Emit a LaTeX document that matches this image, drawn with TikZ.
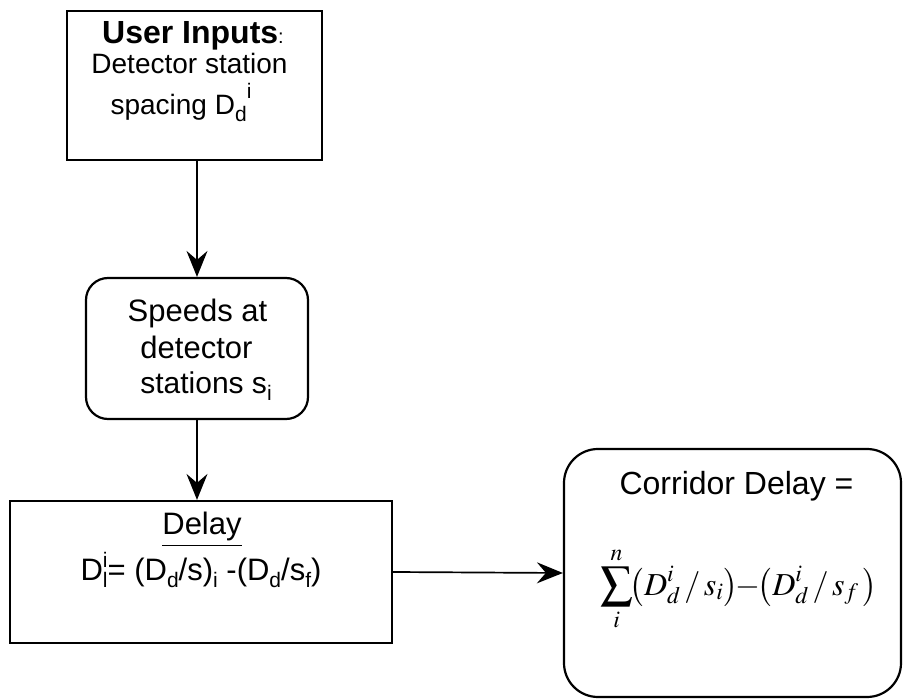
\documentclass[tikz,border=0pt]{standalone}
\usepackage{mathptmx}
\usepackage[no-math]{fontspec}
\setmainfont{Liberation Sans}
\usetikzlibrary{arrows.meta}

% raised and lowered indices in the text font
\newcommand\upidx[2][11pt]{\raisebox{#1}{\fontsize{21}{21}\selectfont #2}}
\newcommand\dnidx[1]{\raisebox{-7pt}{\fontsize{21}{21}\selectfont #1}}

\tikzset{
  box/.style={draw, line width=2.2pt, rectangle, inner sep=0pt},
  roundbox/.style={box, rounded corners=#1},
  label text/.style={inner sep=0pt, anchor=base},
  flow/.style={line width=1.7pt, -{Stealth[length=26pt, width=21pt, inset=9pt]}},
}

\begin{document}
\begin{tikzpicture}[x=1pt, y=-1pt]
  \useasboundingbox (0,0) rectangle (903,700);

  % boxes
  \node[box, minimum width=255pt, minimum height=149pt] (inputs) at (194.5,85.5) {};
  \node[roundbox=22pt, minimum width=222pt, minimum height=141pt] (speeds) at (197,348.5) {};
  \node[box, minimum width=382pt, minimum height=142pt] (delay) at (201,572) {};
  \node[roundbox=34pt, minimum width=337pt, minimum height=248pt] (corridor) at (732.5,573) {};

  % user inputs
  \node[label text] (inputsA) at (193,44)
    {\fontsize{32}{38}\selectfont\bfseries User Inputs\fontsize{20}{24}\mdseries\selectfont:};
  \node[label text] (inputsB) at (189.5,74)
    {\fontsize{28}{34}\selectfont Detector station};
  \node[label text] (inputsC) at (181,115)
    {\fontsize{28}{34}\selectfont spacing D\dnidx{d}\upidx[16pt]{i}};

  % speeds
  \node[label text] (speedsA) at (197.5,321.5) {\fontsize{31}{37}\selectfont Speeds at};
  \node[label text] (speedsB) at (196.5,359) {\fontsize{31}{37}\selectfont detector};
  \node[label text] (speedsC) at (206,394) {\fontsize{30}{36}\selectfont stations s\dnidx{i}};

  % delay
  \node[label text] (delayA) at (202,535) {\fontsize{31}{37}\selectfont\underline{Delay}};
  \node[label text] (delayB) at (201,580)
    {\fontsize{31}{37}\selectfont D\rlap{\upidx[13pt]{i}}\dnidx{l}= (D\dnidx{d}/s)\dnidx{i} -(D\dnidx{d}/s\dnidx{f})};

  % corridor delay
  \node[label text] (corridorA) at (736.5,495) {\fontsize{32}{38}\selectfont Corridor Delay =};
  \node[label text] (corridorB) at (738.5,595)
    {\fontsize{32}{38}\selectfont$\displaystyle\sum_{i}^{n}\!\bigl(D_d^i\,/\,s_i\bigr)\!\!-\!\!\bigl(D_d^i\,/\,s_f\,\bigr)$};

  % connectors
  \draw[flow] (speeds.north |- inputs.south) -- (speeds.north);
  \draw[flow] (speeds.south) -- (speeds.south |- delay.north);
  \draw[flow] (delay.east) -- (corridor.west);
\end{tikzpicture}
\end{document}
